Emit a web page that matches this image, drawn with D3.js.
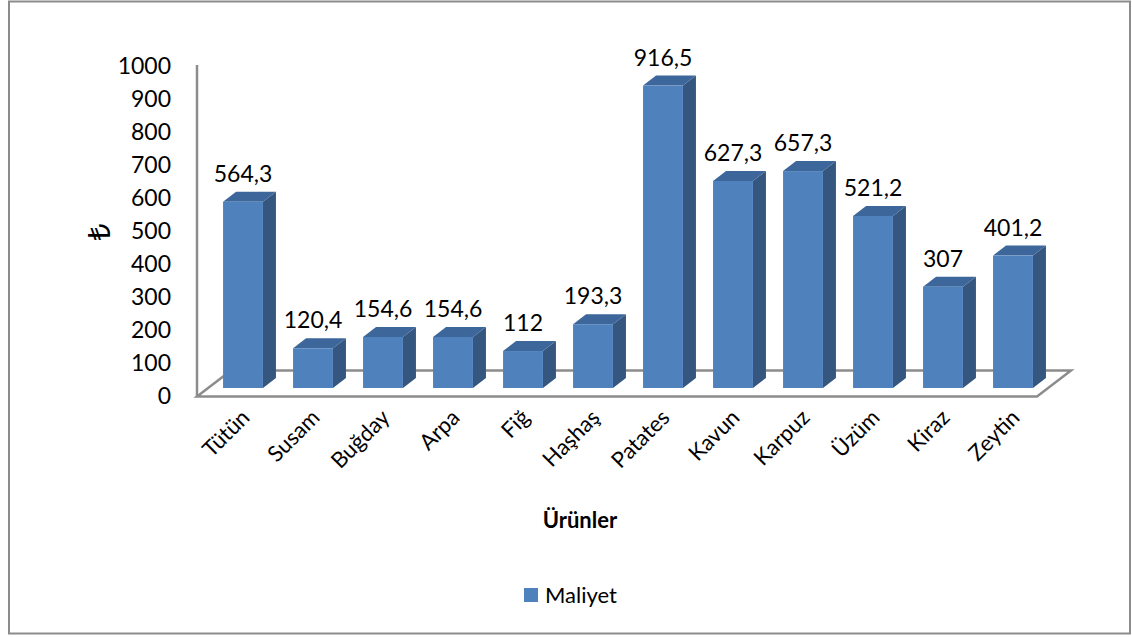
<!DOCTYPE html>
<html>
<head>
<meta charset="utf-8">
<script src="https://cdn.jsdelivr.net/npm/d3@7"></script>
<style>
  body { margin: 0; background: #fff; }
  svg { font-family: Lato, "Open Sans", "DejaVu Sans", sans-serif; }
</style>
</head>
<body>
<svg id="chart" width="1132" height="637"></svg>
<script>
// chart data
var urunler = ["Tütün", "Susam", "Buğday", "Arpa", "Fiğ", "Haşhaş", "Patates", "Kavun", "Karpuz", "Üzüm", "Kiraz", "Zeytin"];
var maliyet = [564.3, 120.4, 154.6, 154.6, 112, 193.3, 916.5, 627.3, 657.3, 521.2, 307, 401.2];
var yTicks = [0, 100, 200, 300, 400, 500, 600, 700, 800, 900, 1000];
var seriesName = "Maliyet";

var svg = d3.select("#chart");

// frame
svg.append("rect")
	.attr("x", 9).attr("y", 1.5)
	.attr("width", 1121).attr("height", 632)
	.attr("fill", "none")
	.attr("stroke", "#8c8c8c")
	.attr("stroke-width", 2);

// scales
var x = d3.scaleBand().domain(urunler).range([208, 1048]).paddingInner(0.43).paddingOuter(0.215);
var y = d3.scaleLinear().domain([0, 1000]).range([388, 58]);    // bars (mid depth)
var yAx = d3.scaleLinear().domain([0, 1000]).range([396, 66]);  // front axis

// 3d offsets
var depth = {dx: 34, dy: -26};   // floor
var bd = {dx: 13, dy: -10};      // bar side

// floor
var fl = 197, fr = 1037, fy = 396.5;
svg.append("path")
	.attr("d", "M" + fl + "," + fy + "L" + fr + "," + fy +
		"L" + (fr + depth.dx) + "," + (fy + depth.dy) +
		"L" + (fl + depth.dx) + "," + (fy + depth.dy) + "Z")
	.attr("fill", "none")
	.attr("stroke", "#8c8c8c")
	.attr("stroke-width", 2.5);

// vertical axis line
svg.append("line")
	.attr("x1", fl).attr("x2", fl)
	.attr("y1", yAx(1000) - 1).attr("y2", fy)
	.attr("stroke", "#8c8c8c")
	.attr("stroke-width", 2.5);

// y axis labels
var yAxis = d3.axisLeft(yAx).tickValues(yTicks).tickSize(0).tickPadding(4).tickFormat(d3.format("d"));
var gy = svg.append("g")
	.attr("transform", "translate(175,0)")
	.call(yAxis);
gy.select(".domain").remove();
gy.selectAll("text")
	.attr("font-size", "23px")
	.attr("fill", "#000")
	.style("font-family", "Lato, 'Open Sans', sans-serif");

// y axis title (lira sign)
svg.append("text")
	.attr("transform", "translate(99,232) rotate(-90)")
	.attr("text-anchor", "middle")
	.attr("dy", "0.35em")
	.attr("font-size", "30px")
	.style("font-family", "'Noto Sans', 'DejaVu Sans', sans-serif")
	.text("₺");

// bars
var bars = svg.append("g").selectAll("g")
	.data(urunler)
	.join("g");

bars.each(function(d, i) {
	var g = d3.select(this);
	var x0 = x(d), w = x.bandwidth(), top = y(maliyet[i]), base = y(0);
	// side
	g.append("path")
		.attr("d", "M" + (x0 + w) + "," + base + "L" + (x0 + w + bd.dx) + "," + (base + bd.dy) +
			"L" + (x0 + w + bd.dx) + "," + (top + bd.dy) + "L" + (x0 + w) + "," + top + "Z")
		.attr("fill", "#34567f");
	// top
	g.append("path")
		.attr("d", "M" + x0 + "," + top + "L" + (x0 + w) + "," + top +
			"L" + (x0 + w + bd.dx) + "," + (top + bd.dy) + "L" + (x0 + bd.dx) + "," + (top + bd.dy) + "Z")
		.attr("fill", "#3d679b");
	// front
	g.append("rect")
		.attr("x", x0).attr("y", top)
		.attr("width", w).attr("height", base - top)
		.attr("fill", "#4f81bd");
	// value label
	g.append("text")
		.attr("x", x0 + w / 2)
		.attr("y", top - 20)
		.attr("text-anchor", "middle")
		.attr("font-size", "23px")
		.text(String(maliyet[i]).replace(".", ","));
});

// category labels
svg.append("g").selectAll("text")
	.data(urunler)
	.join("text")
	.attr("transform", function(d) {
		return "translate(" + (x(d) + x.bandwidth() / 2 + 8) + ",419) rotate(-45)";
	})
	.attr("text-anchor", "end")
	.attr("font-size", "22px")
	.text(function(d) { return d; });

// x axis title
svg.append("text")
	.attr("x", 580).attr("y", 528)
	.attr("text-anchor", "middle")
	.attr("font-size", "22px")
	.attr("font-weight", "bold")
	.text("Ürünler");

// legend
svg.append("rect")
	.attr("x", 524).attr("y", 588)
	.attr("width", 14).attr("height", 14)
	.attr("fill", "#4f81bd");
svg.append("text")
	.attr("x", 545).attr("y", 603)
	.attr("font-size", "22px")
	.text(seriesName);
</script>
</body>
</html>
